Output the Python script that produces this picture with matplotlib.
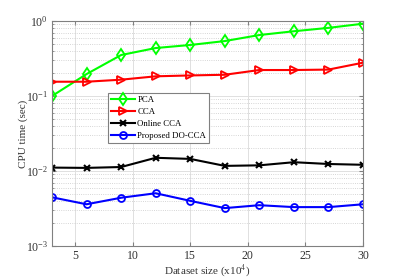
import matplotlib
matplotlib.use("Agg")
import matplotlib.pyplot as plt
from matplotlib.ticker import LogLocator, NullFormatter

plt.rcParams['font.family'] = ['Liberation Serif', 'DejaVu Serif']
plt.rcParams['mathtext.fontset'] = 'stix'

sizes = [3, 6, 9, 12, 15, 18, 21, 24, 27, 30]
pca = [0.10, 0.196, 0.352, 0.436, 0.479, 0.54, 0.65, 0.73, 0.81, 0.92]
cca = [0.155, 0.155, 0.165, 0.183, 0.188, 0.192, 0.222, 0.222, 0.225, 0.278]
online_cca = [0.0111, 0.0110, 0.0113, 0.0150, 0.0145, 0.0117, 0.0119, 0.0131, 0.0124, 0.0121]
do_cca = [0.00446, 0.0036, 0.0044, 0.00505, 0.0040, 0.0032, 0.0035, 0.0033, 0.0033, 0.0036]
xticks = [5, 10, 15, 20, 25, 30]

fig = plt.figure(figsize=(4.01, 2.78), dpi=100)
ax = fig.add_axes([52/401, 1-246/278, (363-52)/401, (246-21)/278])

ax.plot(sizes, pca, color='#00ff00', marker='d', mfc='none', mec='#00ff00', ms=6, mew=1.3, lw=1.5, label='PCA')
ax.plot(sizes, cca, color='red', marker='>', mfc='none', mec='red', ms=6, mew=1.3, lw=1.5, label='CCA')
ax.plot(sizes, online_cca, color='black', marker='x', ms=4, mew=1.5, lw=1.5, label='Online CCA')
ax.plot(sizes, do_cca, color='blue', marker='o', mfc='none', mec='blue', ms=5, mew=1.3, lw=1.5, label='Proposed DO-CCA')

ax.set_yscale('log')
ax.set_xlim(3, 30)
ax.set_ylim(1e-3, 1e0)
ax.set_xticks(xticks)
ax.yaxis.set_major_locator(LogLocator(base=10, numticks=10))
ax.yaxis.set_minor_locator(LogLocator(base=10, subs=range(2, 10), numticks=10))
ax.yaxis.set_minor_formatter(NullFormatter())

ax.grid(True, which='major', color='#e0e0e0', lw=0.7, ls='-')
ax.grid(True, which='minor', axis='y', color='#c8c8c8', lw=0.6, ls=':')
ax.set_axisbelow(True)

for s in ax.spines.values():
    s.set_color('#808080')
    s.set_linewidth(0.8)
ax.tick_params(which='both', direction='in', top=True, right=True, color='#808080', labelcolor='#333333', labelsize=8.5)
ax.tick_params(which='major', length=3)
ax.tick_params(which='minor', length=1.5)
ax.tick_params(axis='x', pad=3)
ax.tick_params(axis='y', pad=3)

ax.set_xlabel('Dataset size (x10$^4$)', fontsize=8, color='#333333')
ax.set_ylabel('CPU time (sec)', fontsize=8, color='#333333')
ax.xaxis.set_label_coords(0.5, -0.072)
ax.yaxis.set_label_coords(-0.078, 0.5)

leg = ax.legend(loc='upper left', bbox_to_anchor=(0.18, 0.68), fontsize=6.3, frameon=True, fancybox=False,
                edgecolor='#808080', framealpha=1, borderpad=0.35, labelspacing=0.45, handlelength=2.7,
                handletextpad=0.3, borderaxespad=0)
leg.get_frame().set_linewidth(0.8)

fig.savefig('out.png', dpi=100)
